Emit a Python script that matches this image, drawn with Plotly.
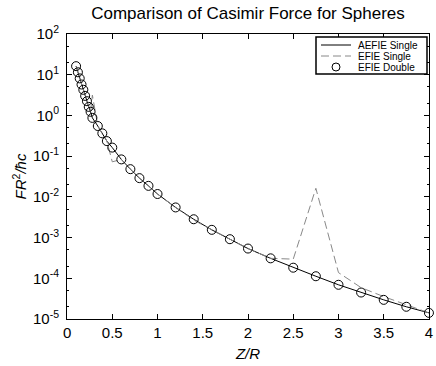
import plotly.graph_objects as go

# Z/R sample positions
z = [0.10, 0.12, 0.14, 0.16, 0.18, 0.20, 0.22, 0.24, 0.26, 0.28,
     0.34, 0.39, 0.44, 0.50, 0.60, 0.70, 0.80, 0.90, 1.00, 1.20,
     1.40, 1.60, 1.80, 2.00, 2.25, 2.50, 2.75, 3.00, 3.25, 3.50,
     3.75, 4.00]

# log10 of FR^2/hbar c
log_aefie_single = [1.21, 1.06, 0.91, 0.76, 0.63, 0.48, 0.35, 0.21, 0.09, -0.06,
                    -0.26, -0.44, -0.63, -0.79, -1.08, -1.32, -1.54, -1.73, -1.93, -2.26,
                    -2.55, -2.81, -3.04, -3.27, -3.51, -3.74, -3.95, -4.16, -4.35, -4.53,
                    -4.70, -4.85]
log_efie_single = [1.21, 1.06, 0.91, 0.76, 0.63, 0.48, 0.35, 0.21, 0.09, 0.50,
                   -0.26, -0.44, -0.63, -1.14, -1.08, -1.32, -1.54, -1.73, -1.93, -2.26,
                   -2.57, -2.81, -3.04, -3.27, -3.51, -3.53, -1.79, -3.86, -4.23, -4.45,
                   -4.65, -4.85]
log_efie_double = [1.21, 1.06, 0.91, 0.76, 0.63, 0.48, 0.35, 0.21, 0.09, -0.06,
                   -0.26, -0.44, -0.63, -0.79, -1.08, -1.32, -1.54, -1.73, -1.93, -2.26,
                   -2.55, -2.81, -3.04, -3.27, -3.51, -3.74, -3.95, -4.16, -4.35, -4.53,
                   -4.70, -4.85]

series_names = ["AEFIE Single", "EFIE Single", "EFIE Double"]

aefie_single = [10 ** v for v in log_aefie_single]
efie_single = [10 ** v for v in log_efie_single]
efie_double = [10 ** v for v in log_efie_double]

x_ticks = [0, 0.5, 1, 1.5, 2, 2.5, 3, 3.5, 4]
x_ticktext = ["0", "0.5", "1", "1.5", "2", "2.5", "3", "3.5", "4"]
y_exps = [2, 1, 0, -1, -2, -3, -4, -5]
y_ticks = [10 ** e for e in y_exps]
y_ticktext = ["10<sup>%d</sup>" % e for e in y_exps]

FONT = "Liberation Sans, Arial, Helvetica, sans-serif"
W, H = 436, 366
ML, MR, MT, MB = 67, 7, 34, 47
PW, PH = W - ML - MR, H - MT - MB


def px(xp):
    return (xp - ML) / PW


def py(yp):
    return (H - MB - yp) / PH


fig = go.Figure()
fig.add_trace(go.Scatter(x=z, y=aefie_single, mode="lines", name=series_names[0],
                         line=dict(color="black", width=1), showlegend=False))
fig.add_trace(go.Scatter(x=z, y=efie_single, mode="lines", name=series_names[1],
                         line=dict(color="#888888", width=1, dash="8px,4px"),
                         showlegend=False))
fig.add_trace(go.Scatter(x=z, y=efie_double, mode="markers", name=series_names[2],
                         marker=dict(symbol="circle-open", size=9,
                                     line=dict(color="black", width=1), color="black"),
                         cliponaxis=False, showlegend=False))

axis_common = dict(showline=True, linecolor="black", linewidth=1, mirror="ticks",
                   ticks="inside", ticklen=5, tickcolor="black", showgrid=False,
                   zeroline=False, automargin=False,
                   tickfont=dict(family=FONT, size=15, color="black"))

# manual compact legend (MATLAB style)
lx0, lx1, ly0, ly1 = 316, 427, 37, 74
rows = [45, 56, 67]
shapes = [dict(type="rect", xref="paper", yref="paper",
               x0=px(lx0), x1=px(lx1), y0=py(ly1), y1=py(ly0),
               line=dict(color="black", width=1.5), fillcolor="white", layer="above")]
shapes.append(dict(type="line", xref="paper", yref="paper",
                   x0=px(321), x1=px(351), y0=py(rows[0]), y1=py(rows[0]),
                   line=dict(color="black", width=1), layer="above"))
shapes.append(dict(type="line", xref="paper", yref="paper",
                   x0=px(321), x1=px(351), y0=py(rows[1]), y1=py(rows[1]),
                   line=dict(color="#888888", width=1, dash="8px,4px"), layer="above"))
shapes.append(dict(type="circle", xref="paper", yref="paper",
                   x0=px(332), x1=px(340), y0=py(rows[2] + 4), y1=py(rows[2] - 4),
                   line=dict(color="black", width=1), layer="above"))
annotations = [dict(text=name, xref="paper", yref="paper", x=px(356), y=py(r),
                    xanchor="left", yanchor="middle", showarrow=False,
                    font=dict(family=FONT, size=10, color="black"))
               for name, r in zip(series_names, rows)]

fig.update_layout(
    width=W, height=H,
    margin=dict(l=ML, r=MR, t=MT, b=MB),
    paper_bgcolor="white", plot_bgcolor="white",
    title=dict(text="Comparison of Casimir Force for Spheres", xref="paper", x=0.5,
               xanchor="center", y=1 - 13 / H, yanchor="middle",
               font=dict(family=FONT, size=17, color="black")),
    xaxis=dict(range=[-0.0005, 4.0005], tickvals=x_ticks, ticktext=x_ticktext,
               title=dict(text="<i>Z/R</i>", font=dict(family=FONT, size=15, color="black"),
                          standoff=8),
               **axis_common),
    yaxis=dict(type="log", range=[-5.0003, 2.0003], tickvals=y_ticks, ticktext=y_ticktext,
               ticklabelstandoff=4,
               minor=dict(ticks="inside", ticklen=2, tickcolor="black", showgrid=False),
               title=dict(text="<i>FR</i><sup>2</sup><i>/ħc</i>",
                          font=dict(family=FONT, size=15, color="black"), standoff=2),
               **axis_common),
    shapes=shapes,
    annotations=annotations,
    showlegend=False,
)

fig.write_html("out.html", config={"displayModeBar": False},
               post_script="document.body.style.margin='0';document.body.style.overflow='hidden';")
